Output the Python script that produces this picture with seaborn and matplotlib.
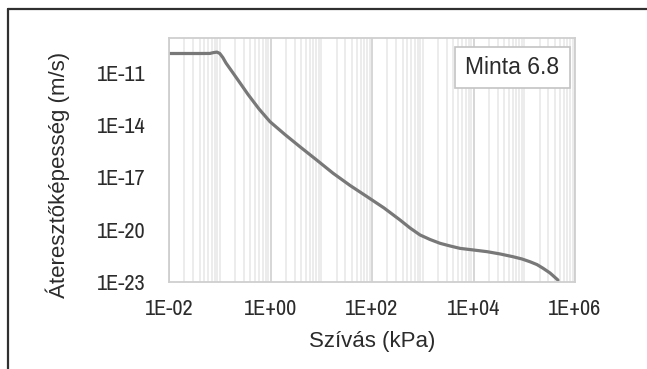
import matplotlib
matplotlib.use("Agg")
import matplotlib.pyplot as plt
import matplotlib.ticker as mticker
from matplotlib import font_manager
from matplotlib.lines import Line2D
from matplotlib.patches import Rectangle
import numpy as np
import pandas as pd
import seaborn as sns

# Suction (kPa) and hydraulic conductivity (m/s) of sample 6.8
suction_kpa = [0.01, 0.041, 0.064, 0.075, 0.088, 0.1, 0.115, 0.133, 0.182,
               0.251, 0.361, 0.593, 0.977, 1.93, 3.81, 7.89, 17.1, 36.9, 79.6,
               172, 356, 561, 883, 1390, 2190, 3440, 5420, 9770, 18500, 33300,
               60000, 90400, 130000, 178000, 234000, 321000, 462000]
conductivity = [1.29e-10, 1.29e-10, 1.30e-10, 1.45e-10, 1.55e-10, 1.30e-10,
                7.6e-11, 3.63e-11, 1.0e-11, 2.63e-12, 5.75e-13, 8.51e-14,
                1.58e-14, 2.88e-15, 5.75e-16, 1.07e-16, 1.74e-17, 3.47e-18,
                7.94e-19, 1.78e-19, 3.63e-20, 1.26e-20, 5.01e-21, 2.75e-21,
                1.66e-21, 1.17e-21, 8.51e-22, 6.92e-22, 5.50e-22, 4.07e-22,
                2.82e-22, 2.09e-22, 1.45e-22, 1.0e-22, 6.17e-23, 3.31e-23,
                1.29e-23]

x_ticks = [1e-2, 1e0, 1e2, 1e4, 1e6]
y_ticks = [1e-23, 1e-20, 1e-17, 1e-14, 1e-11]
sample_label = "Minta 6.8"
x_title = "Szívás (kPa)"
y_title = "Áteresztőképesség (m/s)"

df = pd.DataFrame({"suction": suction_kpa, "k": conductivity})

sns.set_theme(style="white")
plt.rcParams["font.family"] = ["Liberation Sans", "DejaVu Sans"]

# narrow face for the tick labels, if one is available
narrow = None
for f in font_manager.fontManager.ttflist:
    if ("Narrow" in f.name or "Condensed" in f.name) and f.weight in (400, "normal", "regular"):
        narrow = f.name
        break
tick_stretch = "normal"
if narrow is None:
    for f in font_manager.fontManager.ttflist:
        if f.stretch in ("condensed", "semi-condensed") and f.weight in (400, "normal", "regular"):
            narrow = f.name
            tick_stretch = f.stretch
            break
tick_family = [narrow, "DejaVu Sans"] if narrow else ["Liberation Sans", "DejaVu Sans"]
tick_size = 16 if narrow else 13.5

W, H = 647, 369
fig = plt.figure(figsize=(W / 100, H / 100), dpi=100)
fig.patch.set_facecolor("white")

# plot area in pixel terms: x 169..575, y 38..282
L, R, T, B = 169, 575, 38, 282
ax = fig.add_axes([L / W, 1 - B / H, (R - L) / W, (B - T) / H])

sns.lineplot(data=df, x="suction", y="k", ax=ax, color="#787878",
             linewidth=2.3, sort=False, estimator=None)

ax.set_xscale("log")
ax.set_yscale("log")
ax.set_xlim(1e-2, 1e6)
ax.set_ylim(1e-23, 1e-9)

ax.xaxis.set_major_locator(mticker.FixedLocator(x_ticks))
ax.xaxis.set_minor_locator(mticker.LogLocator(base=10, subs=np.arange(1, 10), numticks=50))
ax.yaxis.set_major_locator(mticker.FixedLocator(y_ticks))
ax.yaxis.set_minor_locator(mticker.NullLocator())

fmt = mticker.FuncFormatter(lambda v, p: f"{v:.0E}")
ax.xaxis.set_major_formatter(fmt)
ax.yaxis.set_major_formatter(fmt)
ax.xaxis.set_minor_formatter(mticker.NullFormatter())

ax.grid(False)
ax.grid(True, which="major", axis="x", color="#d6d6d6", linewidth=1.4)
ax.grid(True, which="minor", axis="x", color="#ececec", linewidth=1.4)
ax.set_axisbelow(True)

ax.tick_params(axis="both", which="both", length=0)
ax.tick_params(axis="x", pad=12)
ax.tick_params(axis="y", pad=17)
for lab in ax.get_xticklabels() + ax.get_yticklabels():
    lab.set_family(tick_family)
    lab.set_fontstretch(tick_stretch)
    lab.set_fontsize(tick_size)
    lab.set_color("#2b2b2b")

for s in ax.spines.values():
    s.set_visible(True)
    s.set_color("#cfcfcf")
    s.set_linewidth(1.3)

ax.set_xlabel(x_title, fontsize=16, color="#2b2b2b", va="center")
ax.xaxis.set_label_coords(0.5, -(342 - B) / (B - T))
ax.set_ylabel(y_title, fontsize=16, color="#2b2b2b", va="center", ha="center")
ax.yaxis.set_label_coords(-(L - 58) / (R - L), (B - 175) / (B - T))

# sample name box in the upper right corner
bx0, bx1, by0, by1 = 455, 570, 47, 88
ax.add_patch(Rectangle(((bx0 - L) / (R - L), (B - by1) / (B - T)),
                       (bx1 - bx0) / (R - L), (by1 - by0) / (B - T),
                       transform=ax.transAxes, facecolor="white",
                       edgecolor="#c4c4c4", linewidth=1.2, zorder=5))
ax.text(((bx0 + bx1) / 2 - L) / (R - L), (B - (by0 + by1) / 2) / (B - T),
        sample_label, transform=ax.transAxes, ha="center", va="center",
        fontsize=16.5, color="#2b2b2b", zorder=6)

# outer frame lines along the top and left edges
fig.add_artist(Line2D([8 / W, 1], [1 - 9 / H, 1 - 9 / H], color="#303030",
                      linewidth=1.6, transform=fig.transFigure))
fig.add_artist(Line2D([8 / W, 8 / W], [0, 1 - 9 / H], color="#303030",
                      linewidth=1.6, transform=fig.transFigure))

fig.savefig("out.png", dpi=100, facecolor="white")
